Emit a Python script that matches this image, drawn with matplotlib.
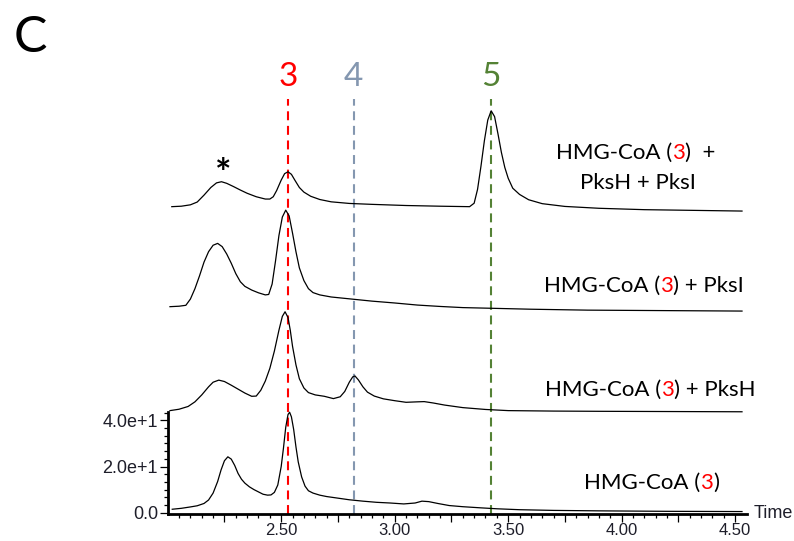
import matplotlib
matplotlib.use("Agg")
import matplotlib.pyplot as plt
from matplotlib.ticker import FixedLocator, FixedFormatter
import numpy as np

# ---------------- data ----------------
# bottom trace: HMG-CoA (3)
t_hmg = [2.02, 2.06, 2.10, 2.13, 2.16, 2.18, 2.20, 2.22, 2.235, 2.25, 2.265, 2.28, 2.295,
         2.31, 2.325, 2.34, 2.36, 2.38, 2.40, 2.42, 2.44, 2.455, 2.47, 2.485, 2.50, 2.51,
         2.52, 2.53, 2.537, 2.545, 2.555, 2.565, 2.575, 2.59, 2.605, 2.62, 2.64, 2.67, 2.70,
         2.75, 2.80, 2.86, 2.92, 2.98, 3.04, 3.09, 3.12, 3.15, 3.19, 3.24, 3.30, 3.38, 3.45,
         3.55, 3.70, 3.90, 4.20, 4.53]
i_hmg = [1.5, 1.9, 2.5, 3.0, 4.0, 5.5, 8.5, 13.5, 18.5, 22.5, 24.2, 23.2, 20.5,
         17.0, 14.5, 12.8, 11.2, 10.0, 9.0, 8.0, 7.6, 7.7, 8.8, 12.0, 20.0, 28.0,
         37.0, 42.5, 43.5, 41.5, 36.0, 28.5, 22.0, 15.5, 11.5, 9.5, 8.5, 7.6, 7.0,
         6.3, 5.6, 5.0, 4.5, 4.2, 3.8, 4.2, 5.0, 4.8, 4.0, 3.1, 2.6, 2.1, 1.7,
         1.3, 1.0, 0.8, 0.6, 0.5]

# HMG-CoA (3) + PksH
t_pksh = [2.01, 2.05, 2.09, 2.12, 2.15, 2.18, 2.20, 2.225, 2.25, 2.28, 2.31, 2.34, 2.37,
          2.39, 2.41, 2.43, 2.45, 2.47, 2.49, 2.505, 2.517, 2.53, 2.54, 2.55, 2.565, 2.58,
          2.60, 2.62, 2.65, 2.69, 2.73, 2.76, 2.78, 2.80, 2.815, 2.825, 2.84, 2.86, 2.88,
          2.91, 2.95, 3.00, 3.05, 3.10, 3.13, 3.17, 3.22, 3.30, 3.40, 3.50, 3.70, 3.90, 4.53]
i_pksh = [1.2, 1.8, 3.0, 5.0, 8.0, 11.5, 13.5, 14.4, 13.8, 12.2, 10.5, 8.8, 7.4,
          7.5, 10.0, 14.0, 19.5, 27.0, 36.0, 42.0, 44.0, 41.5, 36.0, 29.0, 21.0, 15.0,
          11.0, 9.0, 8.0, 7.4, 6.4, 7.2, 9.5, 13.5, 15.8, 16.2, 14.5, 11.5, 9.2,
          7.5, 6.3, 5.5, 4.8, 5.0, 5.1, 4.5, 3.6, 2.5, 1.7, 1.2, 1.0, 0.9, 0.7]

# HMG-CoA (3) + PksI
t_pksi = [2.01, 2.05, 2.08, 2.10, 2.12, 2.14, 2.16, 2.18, 2.20, 2.22, 2.24, 2.26, 2.28,
          2.30, 2.32, 2.34, 2.37, 2.40, 2.43, 2.445, 2.46, 2.475, 2.49, 2.505, 2.52, 2.535,
          2.55, 2.565, 2.58, 2.60, 2.62, 2.64, 2.67, 2.72, 2.80, 2.90, 3.00, 3.10, 3.20,
          3.30, 3.43, 3.60, 3.85, 4.53]
i_pksi = [2.2, 2.4, 2.8, 5.5, 10.0, 15.5, 21.5, 26.0, 28.8, 29.6, 28.2, 25.0, 21.0,
          16.5, 13.0, 11.0, 9.4, 8.2, 7.3, 7.5, 12.0, 22.0, 33.0, 41.0, 44.0, 41.5,
          34.0, 26.0, 19.0, 13.5, 10.0, 8.3, 7.3, 6.4, 5.6, 4.6, 3.8, 2.9, 2.3,
          1.8, 1.5, 1.1, 0.7, 0.3]

# HMG-CoA (3) + PksH + PksI
t_both = [2.018, 2.06, 2.10, 2.13, 2.16, 2.19, 2.215, 2.237, 2.26, 2.29, 2.32, 2.35, 2.39,
          2.43, 2.45, 2.465, 2.48, 2.50, 2.515, 2.53, 2.545, 2.56, 2.58, 2.60, 2.63, 2.67,
          2.72, 2.80, 2.90, 3.05, 3.20, 3.33, 3.35, 3.365, 3.38, 3.395, 3.41, 3.425, 3.44,
          3.455, 3.47, 3.485, 3.50, 3.52, 3.55, 3.59, 3.65, 3.75, 3.90, 4.10, 4.53]
i_both = [2.5, 2.7, 3.3, 4.5, 7.5, 10.8, 12.8, 13.3, 12.6, 11.2, 9.7, 8.3, 6.8,
          5.8, 5.8, 6.8, 9.5, 14.0, 16.8, 17.6, 16.5, 14.0, 10.8, 8.8, 7.0, 5.6,
          4.6, 3.9, 3.5, 3.0, 2.7, 2.5, 4.0, 10.0, 20.0, 31.0, 40.0, 44.0, 41.5,
          34.0, 26.0, 19.5, 14.8, 10.5, 7.8, 5.5, 3.8, 2.6, 1.8, 1.2, 0.6]

trace_names = ["HMG-CoA (3)", "HMG-CoA (3) + PksH", "HMG-CoA (3) + PksI", "HMG-CoA (3) + PksH + PksI"]

marker_labels = ["3", "4", "5"]
marker_times = [2.53, 2.819, 3.423]

y_tick_values = [0, 20, 40]
y_tick_labels = ["0.0", "2.0e+1", "4.0e+1"]
x_tick_values = [2.50, 3.00, 3.50, 4.00, 4.50]
x_tick_labels = ["2.50", "3.00", "3.50", "4.00", "4.50"]

# ---------------- layout / style ----------------
W, H = 794, 541
offsets = [0, 43, 87, 130]
marker_colors = ["#ff0000", "#8497b0", "#548235"]
FAM = ["Lato", "DejaVu Sans"]
AX_FAM = ["Liberation Sans", "DejaVu Sans"]
TICK_COLOR = "#1e1e2a"

fig = plt.figure(figsize=(W / 100, H / 100), dpi=100)
ax_left_px, ax_right_px, ax_bottom_px, ax_top_px = 167.7, 747.0, 514.0, 60.0
ax = fig.add_axes([ax_left_px / W, 1 - ax_bottom_px / H,
                   (ax_right_px - ax_left_px) / W, (ax_bottom_px - ax_top_px) / H])
ax.set_xlim(2.0, 4.552)
ax.set_ylim(-0.56, 196.0)
ax.patch.set_alpha(0)

for t, v, off in zip([t_hmg, t_pksh, t_pksi, t_both], [i_hmg, i_pksh, i_pksi, i_both], offsets):
    ax.plot(t, np.asarray(v) + off, color="black", lw=0.9, solid_joinstyle="round", zorder=3)

for xt, col in zip(marker_times, marker_colors):
    ax.plot([xt, xt], [-0.56, 179], color=col, lw=1.5, linestyle=(0, (4.3, 2.7)), zorder=2)

for lab, xt, col in zip(marker_labels, marker_times, marker_colors):
    ax.text(xt, 188.5, lab, color=col, fontsize=24, family=FAM, ha="center", va="center")

ax.text(2.246, 141.5, "*", fontsize=28, family=FAM, fontweight="bold", ha="center", va="baseline")

# spines & ticks
for s in ["top", "right"]:
    ax.spines[s].set_visible(False)
ax.spines["left"].set_bounds(-0.56, 43.5)
ax.spines["left"].set_linewidth(2.0)
ax.spines["bottom"].set_linewidth(2.0)

ax.yaxis.set_major_locator(FixedLocator(y_tick_values))
ax.yaxis.set_major_formatter(FixedFormatter(y_tick_labels))
ax.yaxis.set_minor_locator(FixedLocator([20 / 6 * k for k in range(1, 14) if k % 6 != 0]))
major_x = [2.25] + [v for x in x_tick_values for v in (x - 0.25, x)]
major_x = sorted(set([round(v, 2) for v in major_x if v > 2.2]))
ax.xaxis.set_major_locator(FixedLocator(major_x))
ax.xaxis.set_major_formatter(FixedFormatter(
    [x_tick_labels[x_tick_values.index(v)] if v in x_tick_values else "" for v in major_x]))
ax.xaxis.set_minor_locator(FixedLocator([round(2.0 + 0.05 * k, 2) for k in range(1, 51)]))
ax.tick_params(which="major", length=6.0, width=0.9, color="black",
               labelcolor=TICK_COLOR)
ax.tick_params(which="minor", length=3.2, width=0.9, color="black")
ax.tick_params(axis="x", which="major", pad=0.8, labelsize=12)
ax.tick_params(axis="y", which="major", pad=1, labelsize=13)
for lab in ax.get_xticklabels() + ax.get_yticklabels():
    lab.set_family(AX_FAM)

fig.text(754 / W, 1 - 513 / H, "Time", fontsize=13, family=AX_FAM, color=TICK_COLOR,
         ha="left", va="center")
fig.text(14 / W, 1 - 52 / H, "C", fontsize=36, family=FAM, ha="left", va="baseline")

# multi-coloured trace labels
renderer = fig.canvas.get_renderer()
LABEL_FS = 16


def colored_line(x_px, base_px, parts):
    x = x_px
    for s, c in parts:
        t = fig.text(x / W, 1 - base_px / H, s, color=c, fontsize=LABEL_FS, family=FAM,
                     ha="left", va="baseline")
        x += t.get_window_extent(renderer).width


def split_label(name):
    a, rest = name.split("(", 1)
    num, b = rest.split(")", 1)
    return [(a + "(", "black"), (num, marker_colors[0]), (")" + b, "black")]


colored_line(584, 489, split_label(trace_names[0]))
colored_line(545, 396, split_label(trace_names[1]))
colored_line(544, 292, split_label(trace_names[2]))
top_parts = split_label(trace_names[3])
colored_line(556, 159, [top_parts[0], top_parts[1], (")  +", "black")])
fig.text(638 / W, 1 - 189 / H, "PksH + PksI", fontsize=LABEL_FS, family=FAM,
         ha="center", va="baseline")

fig.savefig("out.png", dpi=100)
